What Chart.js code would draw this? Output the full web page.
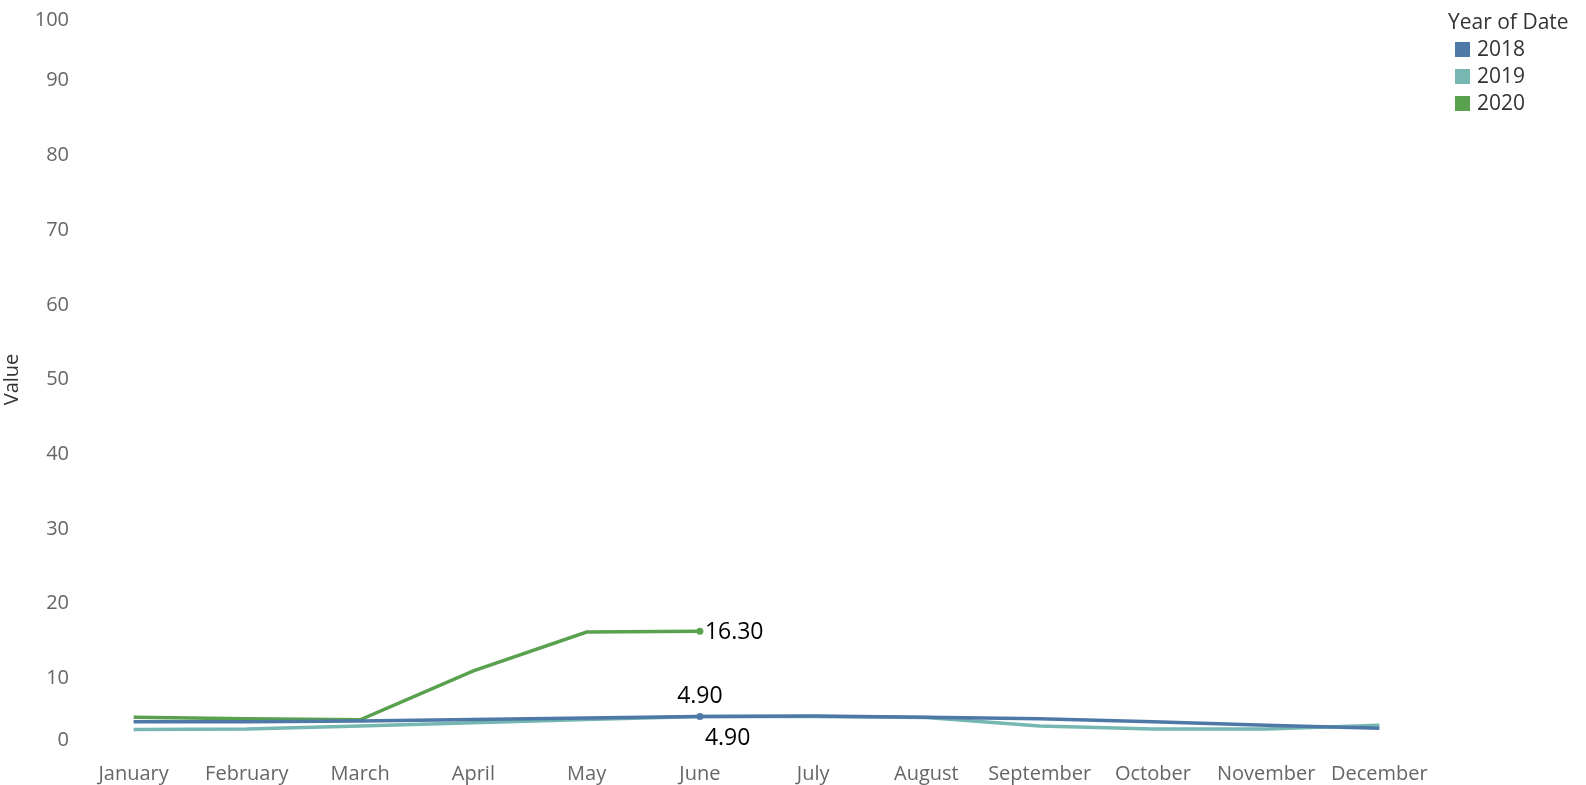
<!DOCTYPE html>
<html>
<head>
<meta charset="utf-8">
<script src="https://cdn.jsdelivr.net/npm/chart.js@4.4.1/dist/chart.umd.min.js"></script>
<style>
  html, body { margin: 0; padding: 0; background: #fff; }
  #wrap { width: 1586px; height: 785px; position: relative; }
</style>
</head>
<body>
<div id="wrap"><canvas id="chart"></canvas></div>
<script>
const months = ['January', 'February', 'March', 'April', 'May', 'June', 'July', 'August', 'September', 'October', 'November', 'December'];
const years = ['2018', '2019', '2020'];
const values2018 = [4.2, 4.2, 4.3, 4.5, 4.7, 4.9, 4.95, 4.8, 4.6, 4.2, 3.7, 3.3];
const values2019 = [3.15, 3.2, 3.6, 4.05, 4.5, 4.9, 4.9, 4.75, 3.6, 3.2, 3.2, 3.7];
const values2020 = [4.8, 4.6, 4.45, 11.0, 16.2, 16.3];
const yTicks = [0, 10, 20, 30, 40, 50, 60, 70, 80, 90, 100];
const colors = ['#4e79a7', '#76b7b2', '#59a14f'];

const FONT = '"Open Sans", Lato, sans-serif';
const labelIndex = 5;

const labelPlugin = {
    id: 'extras',
    afterDraw(chart) {
        const ctx = chart.ctx;
        const y = chart.scales.y;
        const area = chart.chartArea;
        ctx.save();

        // y tick labels, end labels pulled inside like the original
        ctx.font = '20px ' + FONT;
        ctx.fillStyle = '#666';
        ctx.textAlign = 'right';
        ctx.textBaseline = 'middle';
        yTicks.forEach(v => {
            let py = y.getPixelForValue(v);
            py = Math.min(Math.max(py, area.top + 14), area.bottom - 13);
            ctx.fillText(String(v), area.left - 8, py);
        });

        // value labels at June
        ctx.font = '23px ' + FONT;
        ctx.fillStyle = '#000';
        const p18 = chart.getDatasetMeta(0).data[labelIndex];
        const p19 = chart.getDatasetMeta(1).data[labelIndex];
        const p20 = chart.getDatasetMeta(2).data[labelIndex];
        ctx.textAlign = 'left';
        ctx.fillText(values2020[labelIndex].toFixed(2), p20.x + 5, p20.y + 1);
        ctx.textAlign = 'center';
        ctx.fillText(values2018[labelIndex].toFixed(2), p18.x, p18.y - 20);
        ctx.textAlign = 'left';
        ctx.fillText(values2019[labelIndex].toFixed(2), p19.x + 5, p19.y + 22);

        // legend
        const lx = 1448;
        ctx.font = '21px ' + FONT;
        ctx.fillStyle = '#333';
        ctx.textAlign = 'left';
        ctx.fillText('Year of Date', lx, 23);
        years.forEach((yr, i) => {
            const ly = 50 + i * 27;
            ctx.fillStyle = colors[i];
            ctx.fillRect(lx + 7, ly - 8, 15, 15);
            ctx.fillStyle = '#333';
            ctx.fillText(yr, lx + 29, ly);
        });
        ctx.restore();
    }
};

function juneDot(ctx) {
    return ctx.dataIndex === labelIndex ? 3.5 : 0;
}

new Chart(document.getElementById('chart'), {
    type: 'line',
    data: {
        labels: months,
        datasets: [
            { label: years[0], data: values2018, borderColor: colors[0], backgroundColor: colors[0], borderWidth: 3.5, pointRadius: juneDot, pointBorderWidth: 0 },
            { label: years[1], data: values2019, borderColor: colors[1], backgroundColor: colors[1], borderWidth: 3.5, pointRadius: 0 },
            { label: years[2], data: values2020, borderColor: colors[2], backgroundColor: colors[2], borderWidth: 3.5, pointRadius: juneDot, pointBorderWidth: 0 }
        ]
    },
    options: {
        responsive: true,
        maintainAspectRatio: false,
        animation: false,
        layout: { padding: { top: 6, right: 150, left: 0, bottom: 0 } },
        plugins: {
            legend: { display: false },
            tooltip: { enabled: false }
        },
        scales: {
            x: {
                offset: true,
                grid: { display: false, drawTicks: false },
                border: { display: false },
                ticks: { color: '#666', font: { family: FONT, size: 20 }, padding: 9, maxRotation: 0, autoSkip: false },
                afterFit(scale) { scale.height = 32; }
            },
            y: {
                min: 0,
                max: 100,
                grid: { display: false, drawTicks: false },
                border: { display: false },
                ticks: { display: false },
                title: { display: true, text: 'Value', color: '#333', font: { family: FONT, size: 20 }, padding: 0 },
                afterFit(scale) { scale.width = 77; }
            }
        }
    },
    plugins: [labelPlugin]
});
</script>
</body>
</html>
